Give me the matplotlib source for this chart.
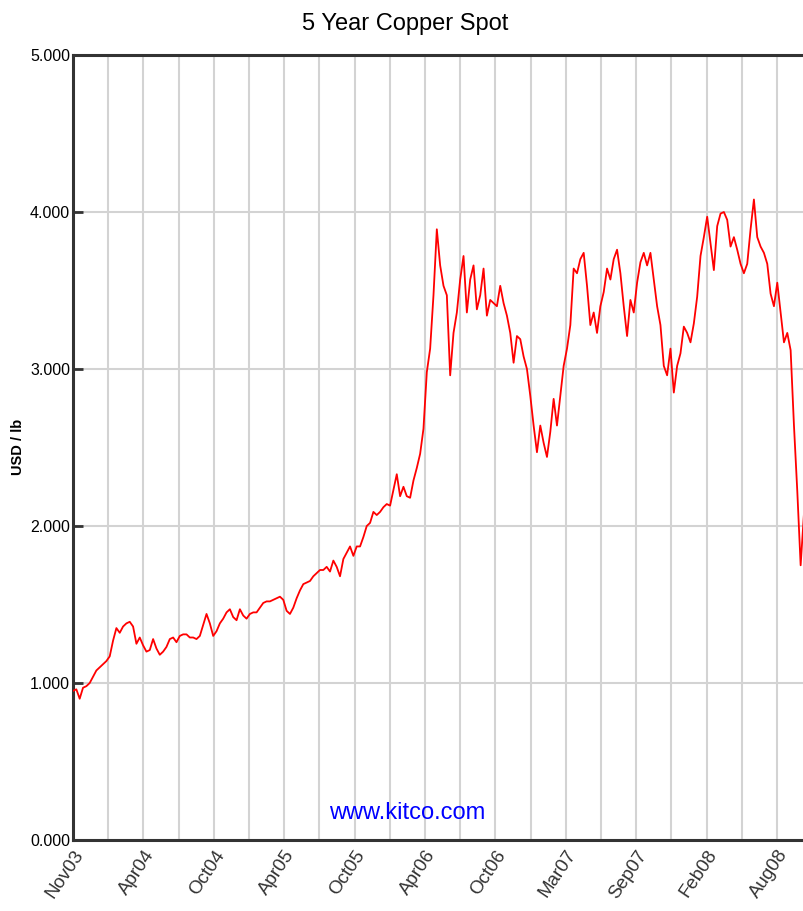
import numpy as np
import matplotlib
matplotlib.use("Agg")
import matplotlib.pyplot as plt
from matplotlib.ticker import FixedLocator, MultipleLocator

plt.rcParams['font.family'] = ['Liberation Sans', 'DejaVu Sans']

# copper spot price, USD/lb, one reading about every 8 days from Nov 2003
prices = [
    0.95, 0.96, 0.90, 0.97, 0.98, 1.00, 1.04, 1.08, 1.10, 1.12,
    1.14, 1.17, 1.27, 1.35, 1.32, 1.36, 1.38, 1.39, 1.36, 1.25,
    1.29, 1.24, 1.20, 1.21, 1.28, 1.22, 1.18, 1.20, 1.23, 1.28,
    1.29, 1.26, 1.30, 1.31, 1.31, 1.29, 1.29, 1.28, 1.30, 1.37,
    1.44, 1.38, 1.30, 1.33, 1.38, 1.41, 1.45, 1.47, 1.42, 1.40,
    1.47, 1.43, 1.41, 1.44, 1.45, 1.45, 1.48, 1.51, 1.52, 1.52,
    1.53, 1.54, 1.55, 1.53, 1.46, 1.44, 1.48, 1.54, 1.59, 1.63,
    1.64, 1.65, 1.68, 1.70, 1.72, 1.72, 1.74,
    1.71, 1.78, 1.74, 1.68, 1.79, 1.83, 1.87, 1.81, 1.87, 1.87,
    1.93, 2.00, 2.02, 2.09, 2.07, 2.09, 2.12, 2.14, 2.13, 2.23,
    2.33, 2.19, 2.25, 2.19, 2.18, 2.29, 2.37, 2.46,
    2.62, 2.98, 3.13, 3.47, 3.89, 3.66, 3.53, 3.47, 2.96, 3.23,
    3.36, 3.57, 3.72, 3.36, 3.57, 3.66, 3.38, 3.47, 3.64, 3.34,
    3.44, 3.42, 3.40, 3.53, 3.42, 3.34, 3.23, 3.04, 3.21, 3.19,
    3.08, 3.00, 2.83, 2.64, 2.47, 2.64, 2.53, 2.44, 2.60, 2.81,
    2.64, 2.83, 3.02, 3.13, 3.28, 3.64, 3.61, 3.70, 3.74, 3.53,
    3.28, 3.36, 3.23, 3.40, 3.49, 3.64, 3.57, 3.70, 3.76, 3.61,
    3.40, 3.21, 3.44, 3.36, 3.55, 3.68, 3.74, 3.66, 3.74, 3.57,
    3.40, 3.28, 3.02, 2.96, 3.13,
    2.85, 3.02, 3.10, 3.27, 3.23, 3.17, 3.29, 3.46, 3.72, 3.84,
    3.97, 3.80, 3.63, 3.91, 3.99, 4.00, 3.95, 3.78, 3.84, 3.76,
    3.67, 3.61, 3.67, 3.89, 4.08, 3.84, 3.78, 3.74, 3.67, 3.48,
    3.40, 3.55, 3.36, 3.17, 3.23, 3.12, 2.64, 2.22, 1.75, 2.08,
]
step_days = 8.23
tick_labels = ["Nov03", "Apr04", "Oct04", "Apr05", "Oct05", "Apr06",
               "Oct06", "Mar07", "Sep07", "Feb08", "Aug08"]
y_ticks = [0, 1, 2, 3, 4, 5]
tick_every = 173.6
span_days = 1805

days = np.arange(len(prices)) * step_days

fig = plt.figure(figsize=(8.04, 9.11), dpi=100)
ax = fig.add_axes([0.0908, 0.0779, 0.9105, 0.8617])

ax.plot(days, prices, color="#ff0000", lw=1.3, zorder=3)

ax.set_xlim(0, span_days)
ax.set_ylim(0, 5)
ax.xaxis.set_major_locator(FixedLocator(np.arange(len(tick_labels)) * tick_every))
ax.xaxis.set_minor_locator(MultipleLocator(tick_every / 2))
ax.set_xticklabels(tick_labels, rotation=56, ha="right", va="top",
                   rotation_mode="anchor", fontsize=13.5, color="#333333")
ax.yaxis.set_major_locator(FixedLocator(y_ticks))
ax.set_yticklabels(["%.3f" % v for v in y_ticks], fontsize=11.5)
ax.tick_params(axis="x", which="both", length=0, pad=5)
ax.tick_params(axis="y", direction="in", length=7, width=2, color="#333333", pad=2)

ax.grid(True, which="both", axis="x", color="#d3d3d3", lw=1.5)
ax.grid(True, which="major", axis="y", color="#d3d3d3", lw=1.5)
ax.set_axisbelow(True)

for side in ["left", "bottom", "top"]:
    ax.spines[side].set_color("#333333")
    ax.spines[side].set_linewidth(2.2)
ax.spines["right"].set_visible(False)

fig.text(0.504, 0.9735, "5 Year Copper Spot", ha="center", va="center", fontsize=17)
fig.text(0.023, 0.509, "USD / lb", rotation=90, ha="center", va="center",
         fontsize=10.5, fontweight="bold")
ax.text(0.456, 0.035, "www.kitco.com", transform=ax.transAxes, ha="center",
        va="center", fontsize=17, color="#0000ff")

fig.savefig("out.png", dpi=100)
